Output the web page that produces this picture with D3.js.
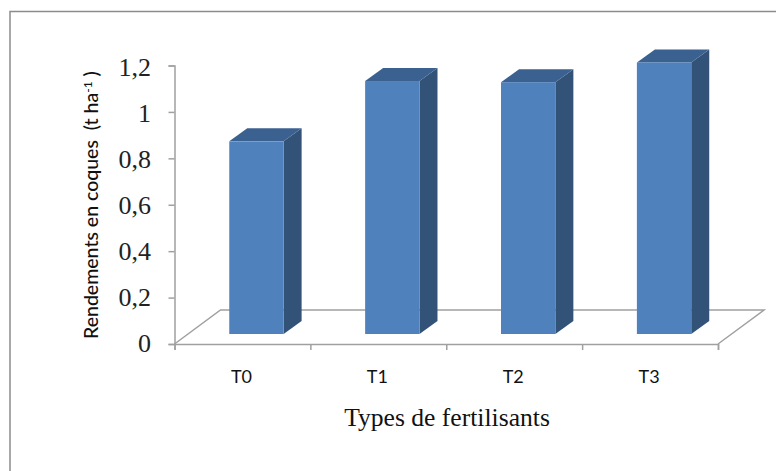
<!DOCTYPE html>
<meta charset="utf-8">
<style>
html, body { margin: 0; padding: 0; background: #fff; }
svg { display: block; }
.ytick { font-family: "Liberation Serif", serif; font-size: 26px; fill: #222; }
.xtick { font-family: Lato, sans-serif; font-size: 18px; fill: #111; }
.ytitle { font-family: Lato, sans-serif; font-size: 19.5px; font-weight: 500; fill: #111; white-space: pre; }
.xtitle { font-family: "Liberation Serif", serif; font-size: 25.6px; fill: #111; }
</style>
<body>
<script src="https://d3js.org/d3.v7.min.js"></script>
<script>

var categories = ["T0", "T1", "T2", "T3"];
var rendements = [0.83, 1.09, 1.085, 1.17];
var yTicks = [0, 0.2, 0.4, 0.6, 0.8, 1, 1.2];

var width = 776, height = 471;
var axisColor = "#a0a0a0";

var svg = d3.select("body").append("svg")
    .attr("width", width)
    .attr("height", height);

// frame round the chart: only the top and left edges are in the picture
svg.append("path")
    .attr("d", d3.line()([[10, height], [10, 11.5], [width, 11.5]]))
    .attr("fill", "none").attr("stroke", "#8c8c8c").attr("stroke-width", 1.5);

var x = d3.scaleBand().domain(categories).range([174.5, 718]).paddingInner(0.6).paddingOuter(0.3);
var xEdges = d3.scaleLinear().domain([0, 4]).range([174.5, 718]);
var y = d3.scaleLinear().domain([0, 1.2]).range([344, 65.5]);
// the labels sit a little wider apart than the ticks
var yLabel = d3.scaleLinear().domain([0, 1.2]).range([352, 75.5]);

// the floor, in oblique view
var floorDx = 46, floorDy = -34;
svg.append("path")
    .attr("d", d3.line()([
      [x.range()[0], y(0)],
      [x.range()[0] + floorDx, y(0) + floorDy],
      [x.range()[1] + floorDx, y(0) + floorDy],
      [x.range()[1], y(0)]
    ]))
    .attr("fill", "none").attr("stroke", axisColor).attr("stroke-width", 1.5);

// axes
var gy = svg.append("g").attr("transform", "translate(174.5,0)")
    .call(d3.axisLeft(y).tickValues(yTicks).tickSize(6).tickFormat(function() { return ""; }));
var gx = svg.append("g").attr("transform", "translate(0,344)")
    .call(d3.axisBottom(xEdges).ticks(4).tickSize(6).tickFormat(function() { return ""; }));
svg.selectAll(".domain").attr("stroke", axisColor).attr("stroke-width", 1.5);
svg.selectAll(".tick line").attr("stroke", axisColor).attr("stroke-width", 1.5);

// y labels, comma decimal
svg.selectAll(".ytick").data(yTicks).enter().append("text")
    .attr("class", "ytick")
    .attr("x", 151).attr("y", function(d) { return yLabel(d); })
    .attr("text-anchor", "end")
    .text(function(d) { return String(d).replace(".", ","); });

// bars
var barDx = 14, barDy = -10, depthX = 18, depthY = -13;
var bars = svg.selectAll(".bar").data(categories).enter().append("g").attr("class", "bar");

function barValue(i) { return rendements[i]; }

bars.append("path") // side
    .attr("fill", "#325278")
    .attr("d", function(d, i) {
      var x1 = x(d) + barDx + x.bandwidth(), yT = y(barValue(i)) + barDy, yB = y(0) + barDy;
      return d3.line()([[x1, yT], [x1 + depthX, yT + depthY], [x1 + depthX, yB + depthY], [x1, yB]]) + "Z";
    });
bars.append("path") // top
    .attr("fill", "#3b6190")
    .attr("d", function(d, i) {
      var x0 = x(d) + barDx, x1 = x0 + x.bandwidth(), yT = y(barValue(i)) + barDy;
      return d3.line()([[x0, yT], [x0 + depthX, yT + depthY], [x1 + depthX, yT + depthY], [x1, yT]]) + "Z";
    });
bars.append("rect") // front
    .attr("fill", "#4f81bd")
    .attr("x", function(d) { return x(d) + barDx; })
    .attr("width", x.bandwidth())
    .attr("y", function(d, i) { return y(barValue(i)) + barDy; })
    .attr("height", function(d, i) { return y(0) - y(barValue(i)); });

// x labels
svg.selectAll(".xtick").data(categories).enter().append("text")
    .attr("class", "xtick")
    .attr("x", function(d) { return x(d) + x.bandwidth() / 2 - 1; })
    .attr("y", 383)
    .attr("text-anchor", "middle")
    .text(function(d) { return d; });

svg.append("text").attr("class", "xtitle")
    .attr("x", 447).attr("y", 426).attr("text-anchor", "middle")
    .text("Types de fertilisants");

var yTitle = svg.append("text").attr("class", "ytitle")
    .attr("transform", "translate(98,339) rotate(-90)");
yTitle.append("tspan").text("Rendements en coques  (t ha");
yTitle.append("tspan").attr("dy", -6).attr("font-size", 12).text("-1");
yTitle.append("tspan").attr("dy", 6).text(" )");

</script>
</body>
